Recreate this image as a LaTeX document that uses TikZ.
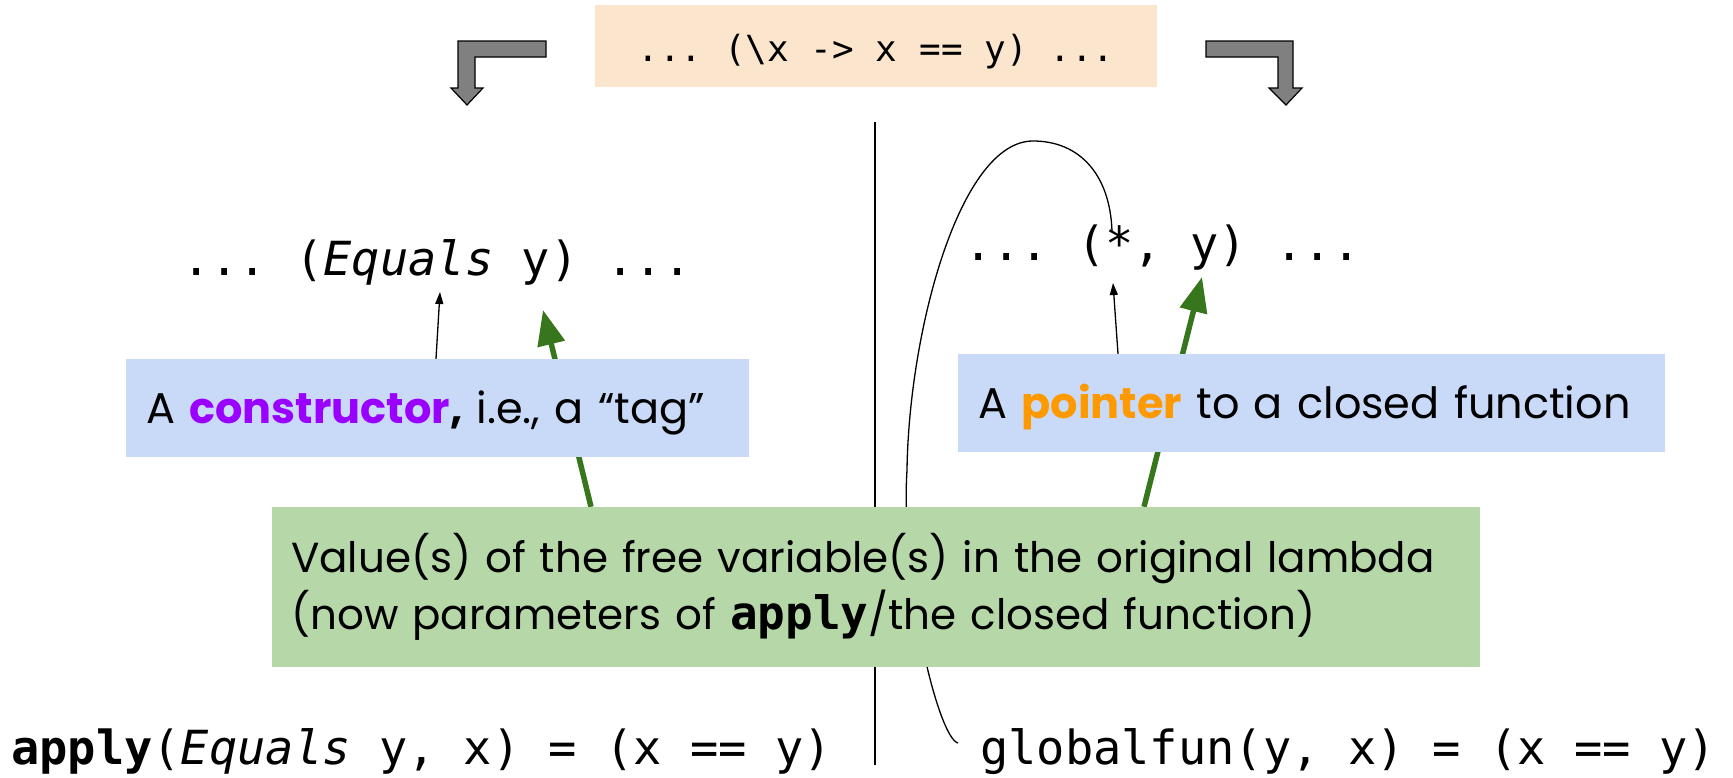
\documentclass[tikz,border=0pt]{standalone}
\usepackage{fontspec}
\setmainfont{Poppins}
\setmonofont{DejaVu Sans Mono}
\usetikzlibrary{arrows.meta,positioning,backgrounds}
\definecolor{peach}{HTML}{FCE5CD}
\definecolor{paleblue}{HTML}{C9DAF8}
\definecolor{palegreen}{HTML}{B6D7A8}
\definecolor{leafgreen}{HTML}{38761D}
\definecolor{tagpurple}{HTML}{9900FF}
\definecolor{ptrorange}{HTML}{FF9900}

\begin{document}
\begin{tikzpicture}[
  x=1pt,y=-1pt,
  code/.style={font=\ttfamily\fontsize{47}{56}\selectfont,inner sep=0pt,anchor=base west},
  note/.style={fill=paleblue,anchor=west,inner xsep=20pt,inner ysep=0pt,minimum height=98pt,
    align=left,text height=30pt,text depth=0pt,font=\fontsize{43}{50}\selectfont},
  lambdabox/.style={fill=peach,minimum width=562pt,minimum height=82pt,inner sep=0pt,
    text height=30pt,text depth=0pt,font=\ttfamily\fontsize{36}{40}\selectfont},
  valbox/.style={fill=palegreen,anchor=west,inner xsep=19pt,inner ysep=0pt,minimum height=160pt,
    text width=1170pt,align=left,font=\fontsize{42}{57}\selectfont},
  bent/.style={fill=black!50,draw=black,line width=1.2pt,line join=miter},
  pin/.style={-{Triangle[length=12pt,width=8pt]},line width=1.3pt},
  feed/.style={-{Triangle[length=35pt,width=27pt]},line width=5.5pt,draw=leafgreen,fill=leafgreen},
  rule/.style={line width=1.3pt}
]
\useasboundingbox (0,0) rectangle (1733,777);

\node[lambdabox] (lambda) at (876,46) {... (\textbackslash x -> x == y) ...\hspace{32pt}};

\draw[bent] (546,41) -- (458,41) -- (458,88) -- (451,88) -- (467,105) -- (483,88)
  -- (475,88) -- (475,57) -- (546,57) -- cycle;
\draw[bent] (1206,41) -- (1293,41) -- (1293,88) -- (1302,88) -- (1286,105) -- (1269,88)
  -- (1278,88) -- (1278,57) -- (1206,57) -- cycle;

\node[code] (eqs) at (182,275) {... (\textit{Equals} y) ...};
\node[code] (ptr) at (964,260) {... (*, y) ...};
\node[code] (applydef) at (11,764) {\textbf{apply}(\textit{Equals} y, x) = (x == y)};
\node[code] (gfun) at (980,764) {globalfun(y, x) = (x == y)};

\node[note,text width=583pt] (ctor) at (126,408)
  {A \textbf{\textcolor{tagpurple}{constructor},} i.e., a “tag”};
\node[note,text width=667pt] (ptrnote) at (958,403)
  {A \textbf{\textcolor{ptrorange}{pointer}} to a closed function};

\node[valbox] (vals) at (272,587)
  {Value(s) of the free variable(s) in the original lambda\\
   (now parameters of {\ttfamily\bfseries\fontsize{46}{57}\selectfont apply}/the closed function)};

\coordinate (eqtag) at (440,292);
\coordinate (startag) at (1113,283);
\coordinate (eqy) at (543,310);
\coordinate (ptry) at (1202,277);
\coordinate (hook) at (958,743);
\coordinate (star) at (1112,231);

\draw[pin] ([xshift=310pt]ctor.north west) -- (eqtag);
\draw[pin] ([xshift=160pt]ptrnote.north west) -- (startag);

\begin{scope}[on background layer]
\draw[rule] (875,122) -- (875,765);
\draw[feed] ([xshift=319pt]vals.north west) -- (eqy);
\draw[feed] ([xshift=872pt]vals.north west) -- (ptry);
\draw[rule] (hook) .. controls (938,738) and (900,580) .. (907,470)
  .. controls (909,330) and (960,141) .. (1033,141)
  .. controls (1080,141) and (1110,175) .. (star);
\end{scope}
\end{tikzpicture}
\end{document}
